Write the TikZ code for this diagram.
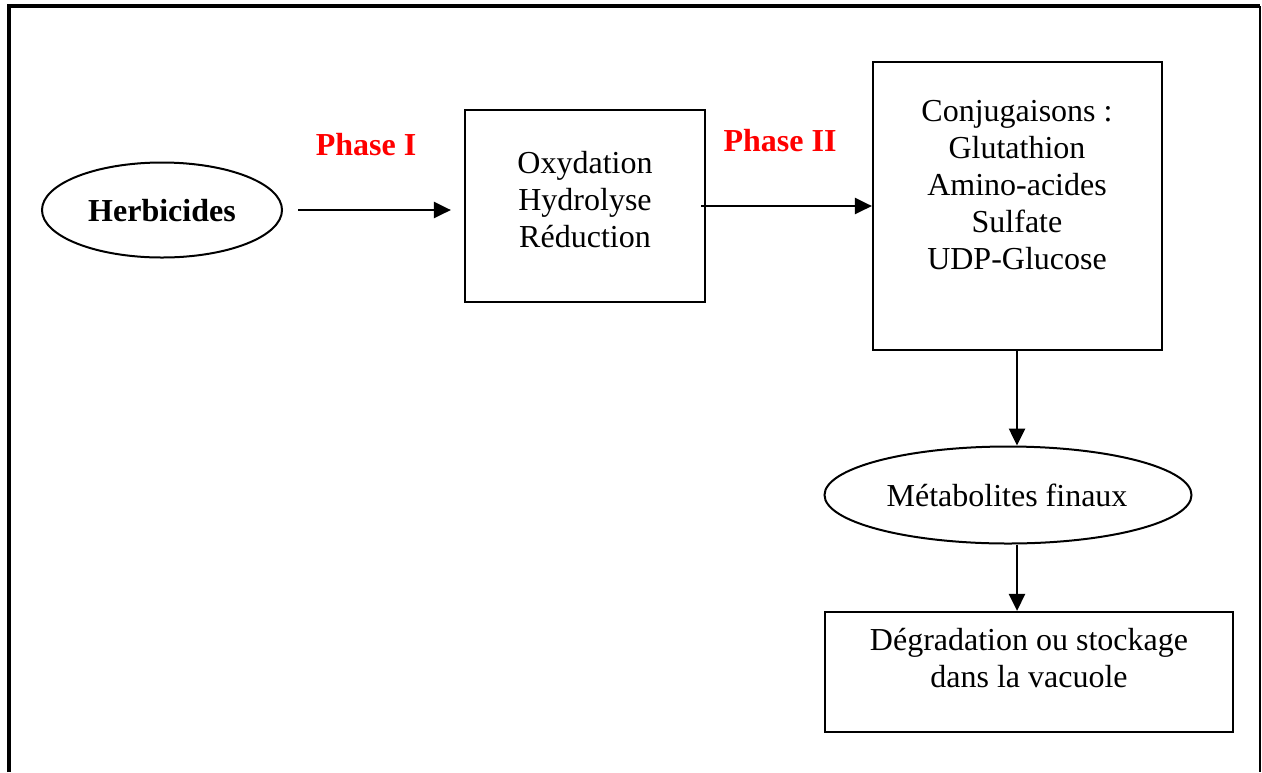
\documentclass[tikz,border=0pt]{standalone}
\usepackage{fontspec}
\setmainfont{Liberation Serif}
\usetikzlibrary{shapes.geometric,arrows.meta}

\tikzset{
  txt/.style={font=\fontsize{16}{18.5}\selectfont, align=center, inner sep=0pt},
  boxshape/.style={draw, line width=1.1pt, rectangle, inner sep=0pt},
  ovalshape/.style={draw, line width=1pt, ellipse, inner sep=0pt},
  arr/.style={line width=1.3pt, -{Triangle[length=8.5pt,width=8pt]}},
  phase/.style={txt, font=\fontsize{16}{18.5}\selectfont\bfseries, text=red},
}

\begin{document}
\begin{tikzpicture}[x=0.5pt, y=-0.5pt]
  \useasboundingbox (0,0) rectangle (1262,772);

  % page frame: heavy left and top rules, thin right rule
  \draw[line width=1.6pt] (9,772) -- (9,6) -- (1260,6);
  \draw[line width=0.6pt] (1260,6) -- (1260,772);

  % shapes
  \node[ovalshape, minimum width=120pt, minimum height=47.5pt] (h) at (162,210) {};
  \node[txt, font=\fontsize{16}{18.5}\selectfont\bfseries] (ht) at (162,211) {Herbicides};

  \node[boxshape, minimum width=120pt, minimum height=96pt] (b1) at (585,206) {};
  \node[txt] (b1t) at (585,200) {Oxydation\\Hydrolyse\\Réduction};

  \node[boxshape, minimum width=144.5pt, minimum height=144pt] (b2) at (1017.5,206) {};
  \node[txt] (b2t) at (1017,185) {Conjugaisons :\\Glutathion\\Amino-acides\\Sulfate\\UDP-Glucose};

  \node[ovalshape, minimum width=183.5pt, minimum height=48.5pt] (m) at (1008,495) {};
  \node[txt] (mt) at (1007,495) {Métabolites finaux};

  \node[boxshape, minimum width=204pt, minimum height=60pt] (b3) at (1029,672) {};
  \node[txt] (b3t) at (1029,658) {Dégradation ou stockage\\dans la vacuole};

  % phase labels
  \node[phase] (p1) at (366,145) {Phase I};
  \node[phase] (p2) at (780,141) {Phase II};

  % connectors
  \draw[arr, shorten <=7.5pt, shorten >=6.5pt] (h.east) -- (h.east -| b1.west);
  \draw[arr, shorten <=-2.5pt] (b1.east) -- (b2.west);
  \draw[arr] (b2.south -| 1017,0) -- (m.north -| 1017,0);
  \draw[arr] (m.south -| 1017,0) -- (b3.north -| 1017,0);
\end{tikzpicture}
\end{document}
